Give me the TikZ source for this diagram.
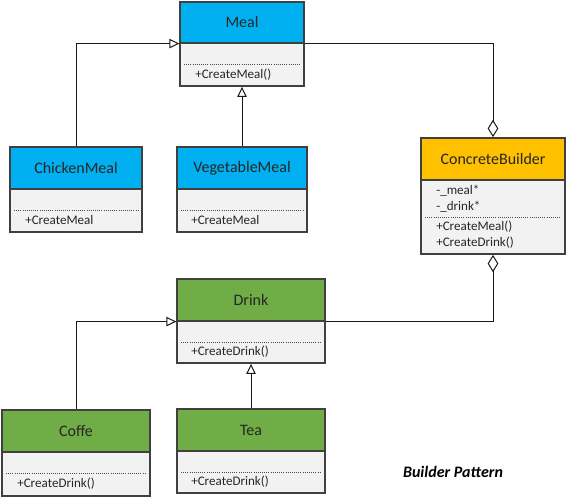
\documentclass[tikz,border=0pt]{standalone}
\usepackage{fontspec}
\setmainfont{Carlito}
\usetikzlibrary{arrows.meta,fit}
\definecolor{mblue}{HTML}{00B0F0}
\definecolor{dgreen}{HTML}{70AD47}
\definecolor{cborange}{HTML}{FFC000}
\definecolor{bodygray}{HTML}{F2F2F2}
\definecolor{bord}{HTML}{404040}
\tikzset{
  hdr/.style={draw=bord, line width=0.9pt, inner sep=0pt},
  bodyrect/.style={draw=bord, line width=0.9pt, fill=bodygray, inner sep=0pt},
  whole/.style={inner sep=0pt},
  titletext/.style={font=\fontsize{12}{14}\selectfont, text=black!85, inner sep=0pt},
  member/.style={font=\fontsize{9.8}{11}\selectfont, text=black!85, anchor=west, inner sep=0pt},
  sepline/.style={densely dotted, line width=0.6pt, draw=black!70},
  conn/.style={draw=black!90, line width=0.75pt},
  gen/.style={-{Triangle[fill=white,length=7.5pt,width=7pt]}},
  aggend/.style={-{Diamond[fill=white,length=13pt,width=8pt]}},
  aggstart/.style={{Diamond[fill=white,length=13pt,width=8pt]}-},
}
\begin{document}
\begin{tikzpicture}[x=0.75pt,y=-0.75pt]
\useasboundingbox (0,0) rectangle (571,499);
\fill[white] (0,0) rectangle (571,499);

% Meal
\node[hdr, fill=mblue, fit={(180,2)(304,43)}] (mealh) {};
\node[bodyrect, fit={(180,43)(304,86)}] (mealb) {};
\node[whole, fit=(mealh)(mealb)] (meal) {};
\node[titletext] (mealt) at (mealh.center) {Meal};
\draw[sepline] (184,64) -- (300,64);
\node[member] (mealm) at (195,75) {+CreateMeal()};

% ChickenMeal
\node[hdr, fill=mblue, fit={(10,147)(142,189)}] (chickh) {};
\node[bodyrect, fit={(10,189)(142,232)}] (chickb) {};
\node[whole, fit=(chickh)(chickb)] (chick) {};
\node[titletext] (chickt) at (chickh.center) {ChickenMeal};
\draw[sepline] (14,210) -- (138,210);
\node[member] (chickm) at (25,220) {+CreateMeal};

% VegetableMeal
\node[hdr, fill=mblue, fit={(177,147)(307,189)}] (vegh) {};
\node[bodyrect, fit={(177,189)(307,232)}] (vegb) {};
\node[whole, fit=(vegh)(vegb)] (veg) {};
\node[titletext] (vegt) at (vegh.center) {VegetableMeal};
\draw[sepline] (181,210) -- (303,210);
\node[member] (vegm) at (191,220) {+CreateMeal};

% ConcreteBuilder
\node[hdr, fill=cborange, fit={(421,138)(565,180)}] (cbh) {};
\node[bodyrect, fit={(421,180)(565,254)}] (cbb) {};
\node[whole, fit=(cbh)(cbb)] (cb) {};
\node[titletext] (cbt) at (cbh.center) {ConcreteBuilder};
\node[member] (cbm1) at (436,191) {-\_meal*};
\node[member] (cbm2) at (436,207) {-\_drink*};
\draw[sepline] (425,217) -- (561,217);
\node[member] (cbm3) at (436,227) {+CreateMeal()};
\node[member] (cbm4) at (436,243) {+CreateDrink()};

% Drink
\node[hdr, fill=dgreen, fit={(177,279)(325,321)}] (drinkh) {};
\node[bodyrect, fit={(177,321)(325,363)}] (drinkb) {};
\node[whole, fit=(drinkh)(drinkb)] (drink) {};
\node[titletext] (drinkt) at (drinkh.center) {Drink};
\draw[sepline] (181,342) -- (321,342);
\node[member] (drinkm) at (191,352) {+CreateDrink()};

% Coffe
\node[hdr, fill=dgreen, fit={(2,410)(150,452)}] (coffh) {};
\node[bodyrect, fit={(2,452)(150,496)}] (coffb) {};
\node[whole, fit=(coffh)(coffb)] (coff) {};
\node[titletext] (cofft) at (coffh.center) {Coffe};
\draw[sepline] (6,473) -- (146,473);
\node[member] (coffm) at (17,484) {+CreateDrink()};

% Tea
\node[hdr, fill=dgreen, fit={(177,409)(325,451)}] (teah) {};
\node[bodyrect, fit={(177,451)(325,493)}] (teab) {};
\node[whole, fit=(teah)(teab)] (tea) {};
\node[titletext] (teat) at (teah.center) {Tea};
\draw[sepline] (181,472) -- (321,472);
\node[member] (team) at (191,482) {+CreateDrink()};

% connectors
\draw[conn, gen] (chick.north) |- (mealh.south west);
\draw[conn, gen] (veg.north) -- (meal.south);
\draw[conn, aggend] (mealh.south east) -| (cb.north);
\draw[conn, aggstart] (cb.south) |- (drinkh.south east);
\draw[conn, gen] (coff.north) |- (drinkh.south west);
\draw[conn, gen] (tea.north) -- (drink.south);

% caption
\node[font=\bfseries\itshape\fontsize{12}{14}\selectfont] (caption) at (453,472) {Builder Pattern};
\end{tikzpicture}
\end{document}
